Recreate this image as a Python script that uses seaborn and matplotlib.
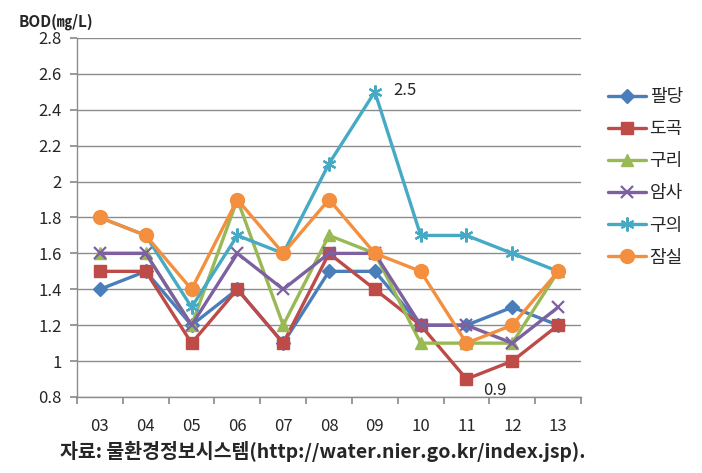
import pandas as pd
import seaborn as sns
import matplotlib.pyplot as plt

years = ["03", "04", "05", "06", "07", "08", "09", "10", "11", "12", "13"]
sites = ["팔당", "도곡", "구리", "암사", "구의", "잠실"]

paldang = [1.4, 1.5, 1.2, 1.4, 1.1, 1.5, 1.5, 1.2, 1.2, 1.3, 1.2]
dogok = [1.5, 1.5, 1.1, 1.4, 1.1, 1.6, 1.4, 1.2, 0.9, 1.0, 1.2]
guri = [1.6, 1.6, 1.2, 1.9, 1.2, 1.7, 1.6, 1.1, 1.1, 1.1, 1.5]
amsa = [1.6, 1.6, 1.2, 1.6, 1.4, 1.6, 1.6, 1.2, 1.2, 1.1, 1.3]
guui = [1.8, 1.7, 1.3, 1.7, 1.6, 2.1, 2.5, 1.7, 1.7, 1.6, 1.5]
jamsil = [1.8, 1.7, 1.4, 1.9, 1.6, 1.9, 1.6, 1.5, 1.1, 1.2, 1.5]

colors = ["#4A7EBB", "#BE4B48", "#98B954", "#7D60A0", "#46AAC5", "#F38F3E"]
markers = ["D", "s", "^", "x", (6, 2, 0), "o"]
msizes = [7, 9, 9, 9, 10, 10]

values = [paldang, dogok, guri, amsa, guui, jamsil]
rows = []
for s, v in zip(sites, values):
    for i, y in enumerate(v):
        rows.append({"site": s, "pos": i, "bod": y})
df = pd.DataFrame(rows)

sns.set_theme(style="white")
plt.rcParams["font.family"] = ["Noto Sans CJK KR", "DejaVu Sans"]

fig = plt.figure(figsize=(7.02, 4.73), dpi=100)
ax = fig.add_axes([0.1097, 0.1607, 0.718, 0.759])

for k, s in enumerate(sites):
    sns.lineplot(data=df[df["site"] == s], x="pos", y="bod", ax=ax,
                 color=colors[k], marker=markers[k], markersize=msizes[k],
                 markeredgecolor=colors[k], markeredgewidth=1.6 if k in (3, 4) else 1,
                 linewidth=2.4, label=s, sort=False)

ax.set_xlim(-0.5, len(years) - 0.5)
ax.set_ylim(0.8, 2.8)
ax.set_yticks([0.8 + 0.2 * i for i in range(11)])
ax.set_yticklabels(["0.8", "1", "1.2", "1.4", "1.6", "1.8", "2", "2.2", "2.4", "2.6", "2.8"],
                   fontsize=12)
ax.yaxis.grid(True, color="#8C8C8C", linewidth=1)
ax.set_axisbelow(True)

# ticks at category boundaries, labels at category centres
ax.set_xticks([i - 0.5 for i in range(len(years) + 1)], minor=False)
ax.set_xticklabels([])
ax.set_xticks(range(len(years)), minor=True)
ax.set_xticklabels(years, minor=True, fontsize=12)
ax.tick_params(axis="x", which="major", length=5, color="#8C8C8C", direction="out", bottom=True)
ax.tick_params(axis="x", which="minor", length=0, pad=15)
ax.tick_params(axis="y", length=5, color="#8C8C8C", direction="out", left=True, pad=6)

for side in ["top", "right"]:
    ax.spines[side].set_visible(False)
for side in ["left", "bottom"]:
    ax.spines[side].set_color("#8C8C8C")
    ax.spines[side].set_linewidth(1)

ax.set_xlabel("")
ax.set_ylabel("")

ax.annotate("2.5", xy=(6, 2.5), xytext=(13, 1), textcoords="offset points",
            fontsize=12, va="center")
ax.annotate("0.9", xy=(8, 0.9), xytext=(12, -8), textcoords="offset points",
            fontsize=12, va="center")

handles, labels = ax.get_legend_handles_labels()
fig.legend(handles, labels, loc="center left", bbox_to_anchor=(0.843, 0.625),
           frameon=False, fontsize=13, handlelength=2.1, labelspacing=0.78,
           handletextpad=0.2, numpoints=1)
if ax.get_legend():
    ax.get_legend().remove()

fig.text(0.026, 0.953, "BOD(㎎/L)", fontsize=11, fontweight="bold", va="center")
fig.text(0.085, 0.045, "자료: 물환경정보시스템(http://water.nier.go.kr/index.jsp).",
         fontsize=14, fontweight="bold", va="center")

fig.savefig("out.png", dpi=100)
